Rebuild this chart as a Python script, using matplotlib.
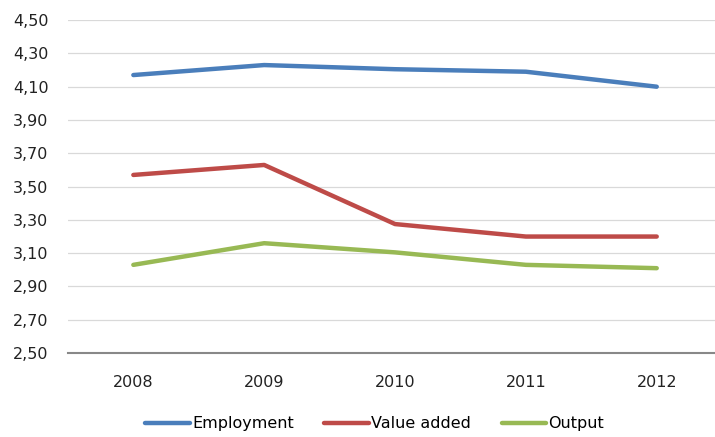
import matplotlib
matplotlib.use("Agg")
import matplotlib.pyplot as plt
from matplotlib.ticker import FuncFormatter

years = ["2008", "2009", "2010", "2011", "2012"]
employment = [4.17, 4.23, 4.205, 4.19, 4.10]
value_added = [3.57, 3.63, 3.275, 3.20, 3.20]
output = [3.03, 3.16, 3.105, 3.03, 3.01]
y_ticks = [2.5, 2.7, 2.9, 3.1, 3.3, 3.5, 3.7, 3.9, 4.1, 4.3, 4.5]

series = [
    ("Employment", employment, "#4a7ebb"),
    ("Value added", value_added, "#be4b48"),
    ("Output", output, "#98b954"),
]

fig = plt.figure(figsize=(7.15, 4.37), dpi=100)
ax = fig.add_axes([0.095, 0.192, 0.915, 0.762])

x = range(len(years))
for name, vals, col in series:
    ax.plot(x, vals, color=col, lw=3.2, label=name, solid_capstyle="round")

ax.set_xlim(-0.5, len(years) - 0.5)
ax.set_ylim(2.5, 4.5)
ax.set_yticks(y_ticks)
ax.yaxis.set_major_formatter(FuncFormatter(lambda v, p: f"{v:.2f}".replace(".", ",")))
ax.set_xticks(list(x))
ax.set_xticklabels(years)

ax.grid(axis="y", color="#d9d9d9", lw=0.9)
ax.set_axisbelow(True)
for s in ["top", "right", "left"]:
    ax.spines[s].set_visible(False)
ax.spines["bottom"].set_color("#888888")
ax.spines["bottom"].set_linewidth(1.5)
ax.tick_params(axis="both", length=0, labelsize=11.5, colors="#222222")
ax.tick_params(axis="y", pad=14)
ax.tick_params(axis="x", pad=16)

fig.legend(loc="center", bbox_to_anchor=(0.524, 0.03), ncol=3, frameon=False,
           fontsize=11.5, handlelength=2.8, handletextpad=0.15, columnspacing=1.9)

fig.savefig("out.png", dpi=100)
